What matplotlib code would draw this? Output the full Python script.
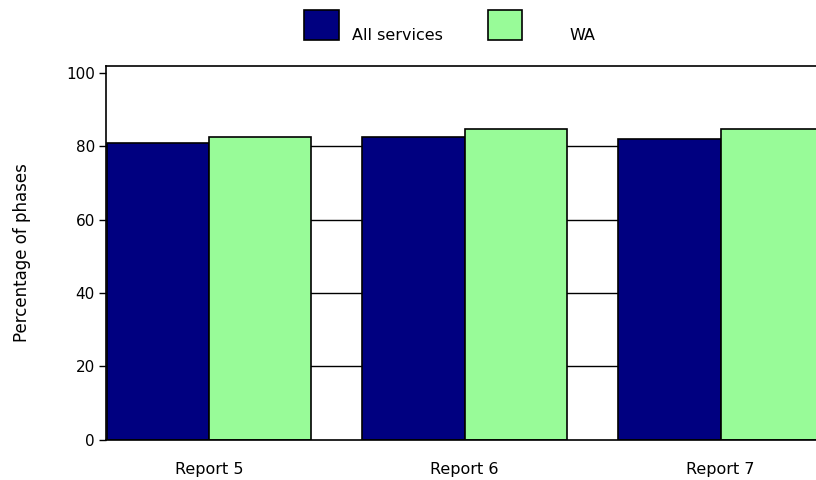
import numpy as np
import matplotlib
matplotlib.use("Agg")
import matplotlib.pyplot as plt
from matplotlib.patches import Rectangle

# values
reports = ["Report 5", "Report 6", "Report 7"]
all_services = [80.9, 82.6, 81.9]
wa = [82.5, 84.6, 84.6]
y_ticks = [0, 20, 40, 60, 80, 100]
grid_levels = [20, 40, 60, 80]

navy = "#000080"
green = "#98FB98"

plt.rcParams["font.family"] = ["DejaVu Sans"]

fig = plt.figure(figsize=(8.16, 4.8), dpi=100)
ax = fig.add_axes([106 / 816, 1 - 439.5 / 480, 1 - 106 / 816, (439.5 - 65.7) / 480])

x = np.arange(len(reports))
w = 0.4

# grid lines sit behind the bars
ax.hlines(grid_levels, -1, len(reports) + 1, colors="black", linewidth=1.0, zorder=1)

ax.bar(x - w / 2, all_services, width=w, color=navy, edgecolor="black",
       linewidth=1.2, zorder=2)
ax.bar(x + w / 2, wa, width=w, color=green, edgecolor="black",
       linewidth=1.2, zorder=2)

ax.set_xlim(-0.402, 2.373)
ax.set_ylim(0, 102)
ax.set_yticks(y_ticks)
ax.set_xticks(x)
ax.set_xticklabels(reports, fontsize=11.5)
ax.tick_params(axis="x", length=0, pad=16)
ax.tick_params(axis="y", length=5, width=1.0, pad=3, labelsize=11, direction="out")

for side in ["left", "bottom", "top"]:
    ax.spines[side].set_linewidth(1.2)
ax.spines["right"].set_visible(False)

ax.set_ylabel("Percentage of phases", fontsize=12)
ax.yaxis.set_label_coords(-0.105, 0.5)

# legend drawn as in the original layout
fig.add_artist(Rectangle((304 / 816, 1 - 40 / 480), 35 / 816, 30 / 480,
                         transform=fig.transFigure, facecolor=navy,
                         edgecolor="black", linewidth=1.2))
fig.text(352 / 816, 1 - 40 / 480, "All services", fontsize=11.5, va="baseline")
fig.add_artist(Rectangle((488 / 816, 1 - 40 / 480), 34 / 816, 30 / 480,
                         transform=fig.transFigure, facecolor=green,
                         edgecolor="black", linewidth=1.2))
fig.text(569 / 816, 1 - 40 / 480, "WA", fontsize=11.5, va="baseline")

fig.savefig("out.png", dpi=100)
